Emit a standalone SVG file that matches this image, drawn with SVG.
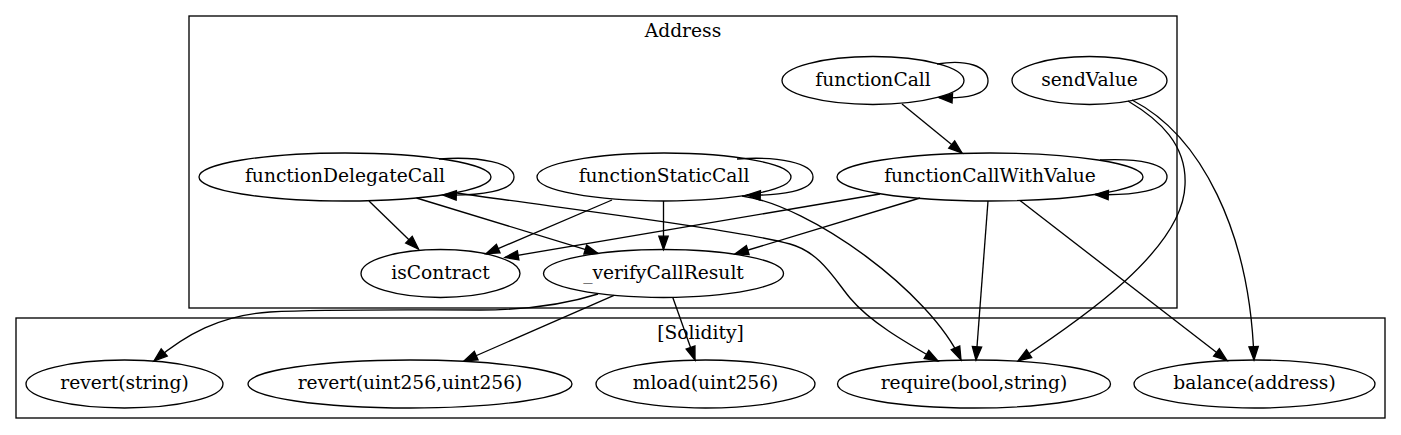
<svg xmlns="http://www.w3.org/2000/svg" width="1401" height="435" viewBox="0 0 1401 435">
<style>
.cl{fill:none;stroke:#000;stroke-width:1.33}
.nd{fill:none;stroke:#000;stroke-width:1.33}
.e{fill:none;stroke:#000;stroke-width:1.33;marker-end:url(#arr)}
text{font-family:"DejaVu Serif","Liberation Serif",serif;font-size:18.67px;text-anchor:middle;fill:#000}
</style>
<defs>
<marker id="arr" markerUnits="userSpaceOnUse" markerWidth="16" markerHeight="12" refX="13.3" refY="4.67" orient="auto" overflow="visible">
<path d="M0,0 L13.3,4.67 L0,9.34 z" fill="#000" stroke="#000" stroke-width="1.33"/>
</marker>
</defs>
<rect width="1401" height="435" fill="#fff"/>
<g id="cluster_Address">
<rect class="cl" x="189" y="16" width="988" height="292"/>
<text x="683" y="37">Address</text>
</g>
<g id="cluster_Solidity">
<rect class="cl" x="16" y="318" width="1369" height="100"/>
<text x="700.5" y="339">[Solidity]</text>
</g>
<g id="functionCall"><ellipse class="nd" cx="873" cy="80.5" rx="91" ry="24"/><text x="873" y="85.5">functionCall</text></g>
<g id="sendValue"><ellipse class="nd" cx="1089.5" cy="80.5" rx="77.5" ry="24"/><text x="1089.5" y="85.5">sendValue</text></g>
<g id="functionDelegateCall"><ellipse class="nd" cx="345" cy="177" rx="146" ry="24"/><text x="345" y="182">functionDelegateCall</text></g>
<g id="functionStaticCall"><ellipse class="nd" cx="664" cy="177" rx="127" ry="24"/><text x="664" y="182">functionStaticCall</text></g>
<g id="functionCallWithValue"><ellipse class="nd" cx="990" cy="177" rx="153" ry="24"/><text x="990" y="182">functionCallWithValue</text></g>
<g id="isContract"><ellipse class="nd" cx="440.5" cy="273.5" rx="79.5" ry="24"/><text x="440.5" y="278.5">isContract</text></g>
<g id="_verifyCallResult"><ellipse class="nd" cx="663.5" cy="273.5" rx="120" ry="24"/><text x="663.5" y="278.5">_verifyCallResult</text></g>
<g id="revert_string"><ellipse class="nd" cx="124.5" cy="384" rx="98.5" ry="24"/><text x="124.5" y="389">revert(string)</text></g>
<g id="revert_uint256_uint256"><ellipse class="nd" cx="410" cy="384" rx="162" ry="24"/><text x="410" y="389">revert(uint256,uint256)</text></g>
<g id="mload_uint256"><ellipse class="nd" cx="705.5" cy="384" rx="109.5" ry="24"/><text x="705.5" y="389">mload(uint256)</text></g>
<g id="require_bool_string"><ellipse class="nd" cx="974" cy="384" rx="136.5" ry="24"/><text x="974" y="389">require(bool,string)</text></g>
<g id="balance_address"><ellipse class="nd" cx="1254.5" cy="384" rx="120.5" ry="24"/><text x="1254.5" y="389">balance(address)</text></g>
<g id="connectors">
<path class="e" d="M937,64 C966,59 988,66 988,81 C988,95 965,99 939,97.5"/>
<path class="e" d="M902,104 L962,153"/>
<path class="e" d="M1128,101 C1160,120 1187,145 1185,185 C1183,250 1080,320 1018,361"/>
<path class="e" d="M1132,100 C1200,135 1250,230 1254,360"/>
<path class="e" d="M439,159 C480,156 514,163 514,177 C514,191 480,196 443,195"/>
<path class="e" d="M369,201 L418.5,249"/>
<path class="e" d="M416.5,198 L598,253.4"/>
<path class="e" d="M457,193 C560,208 740,230 790,244 C820,252 835,280 850,298 C870,322 905,342 938,361"/>
<path class="e" d="M737,159 C778,156 813,163 813,177 C813,191 780,196 747,195"/>
<path class="e" d="M612,200 L486,253.8"/>
<path class="e" d="M663.5,201 L663.5,249.5"/>
<path class="e" d="M742,196 C810,205 930,292 961,360"/>
<path class="e" d="M1100,160 C1140,158 1167,164 1167,177 C1167,190 1135,196 1095,194.5"/>
<path class="e" d="M880,194 L505,257.5"/>
<path class="e" d="M920,198 L735,254"/>
<path class="e" d="M988,201 L976,360"/>
<path class="e" d="M1020,200.5 L1227,360.5"/>
<path class="e" d="M598,294 C560,306 520,310 480,310 C400,310 330,309 270,312 C220,315 185,335 154,361"/>
<path class="e" d="M614,295.4 L464,361"/>
<path class="e" d="M672.7,297.3 L695,360"/>
</g>
</svg>
